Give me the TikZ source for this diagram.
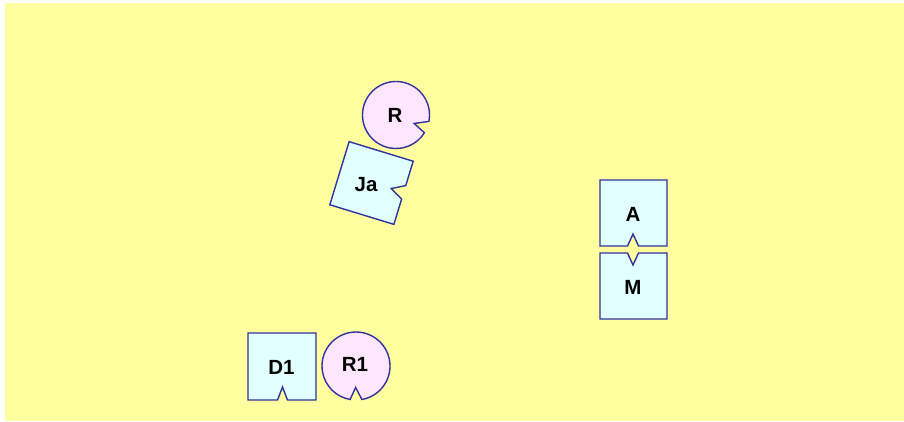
\documentclass[tikz,border=0pt]{standalone}
\usepackage{fontspec}
\setmainfont{Liberation Sans}
\definecolor{bgyellow}{RGB}{255,255,160}
\definecolor{boxfill}{RGB}{225,255,255}
\definecolor{circfill}{RGB}{255,230,255}
\definecolor{edgeblue}{RGB}{50,50,160}
\begin{document}
\begin{tikzpicture}[x=1pt,y=1pt,
  boxshape/.style={draw=edgeblue,fill=boxfill,line width=1.4pt,line join=miter},
  circshape/.style={draw=edgeblue,fill=circfill,line width=1.4pt,line join=miter},
  lbl/.style={font=\fontsize{20.5}{24}\selectfont\bfseries,text=black,inner sep=0pt}]
\useasboundingbox (0,-421) rectangle (904,0);
\fill[bgyellow] (5,-3) rectangle (904,-421);
% R
\coordinate (cR) at (396,-115);
\draw[circshape] (cR) ++(-11:33.5) arc[start angle=-11,end angle=328,radius=33.5]
  -- ([shift={(-25:20)}]cR) -- cycle;
\node[lbl] (R) at (395,-115) {R};
% Ja
\begin{scope}[shift={(371.5,-183)},rotate=-17]
\draw[boxshape] (-33.5,33) -- (33.5,33) -- (33.5,7.5) -- (20.5,0.5) -- (33.5,-6.5)
  -- (33.5,-33) -- (-33.5,-33) -- cycle;
\end{scope}
\node[lbl] (Ja) at (366,-185) {Ja};
% A
\draw[boxshape] (600,-180) -- (667,-180) -- (667,-246) -- (638.5,-246) -- (633,-234)
  -- (627.5,-246) -- (600,-246) -- cycle;
\node[lbl] (A) at (633,-214) {A};
% M
\draw[boxshape] (600,-253) -- (627.5,-253) -- (633,-265) -- (638.5,-253) -- (667,-253)
  -- (667,-319) -- (600,-319) -- cycle;
\node[lbl] (M) at (633,-287) {M};
% D1
\draw[boxshape] (248,-333) -- (316,-333) -- (316,-400) -- (287.5,-400) -- (282.5,-387)
  -- (277.5,-400) -- (248,-400) -- cycle;
\node[lbl] (D1) at (281.5,-367) {D1};
% R1
\coordinate (cR1) at (356,-366);
\draw[circshape] (cR1) ++(-80:34) arc[start angle=-80,end angle=260,radius=34]
  -- ([shift={(-91:21.5)}]cR1) -- cycle;
\node[lbl] (R1) at (355,-364) {R1};
\end{tikzpicture}
\end{document}
